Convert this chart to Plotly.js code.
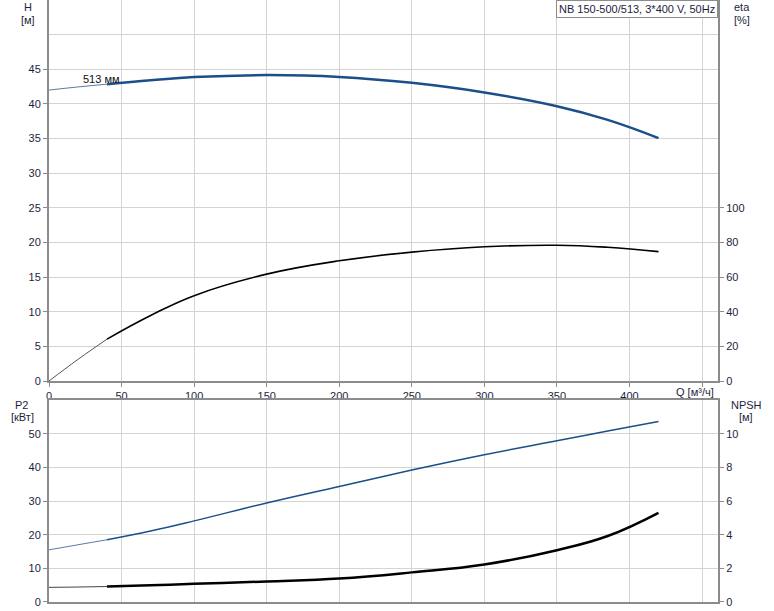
<!DOCTYPE html>
<html>
<head>
<meta charset="utf-8">
<script src="https://cdn.plot.ly/plotly-3.0.1.min.js"></script>
<style>html,body{margin:0;padding:0;background:#fff;}#chart{width:774px;height:611px;}</style>
</head>
<body>
<div id="chart"></div>
<script>
// Data
const Q     = [0, 20, 40, 70, 100, 150, 200, 250, 300, 350, 385, 420];      // м³/ч
const H     = [42.0, 42.45, 42.85, 43.4, 43.87, 44.16, 43.9, 43.04, 41.65, 39.67, 37.7, 35.07]; // м
const ETA   = [0, 12.5, 24.2, 37.8, 49.3, 61.7, 69.4, 74.4, 77.5, 78.4, 77.2, 74.7];        // %
const P2    = [15.5, 17.0, 18.5, 21.1, 24.1, 29.4, 34.3, 39.2, 43.75, 47.9, 50.8, 53.6];   // кВт
const NPSH  = [0.87, 0.89, 0.92, 0.99, 1.08, 1.22, 1.39, 1.76, 2.23, 3.08, 3.92, 5.3];    // м
const SPLIT = 2; // index where the thin (extrapolated) part ends

const xTicks = [0, 50, 100, 150, 200, 250, 300, 350, 400, 450];
const xTickText = ['0', '50', '100', '150', '200', '250', '300', '350', '400', ''];
const hTicks = [0, 5, 10, 15, 20, 25, 30, 35, 40, 45];
const etaTicks = [0, 20, 40, 60, 80, 100];
const p2Ticks = [0, 10, 20, 30, 40, 50];
const npshTicks = [0, 2, 4, 6, 8, 10];

const curveLabel = '513 мм';
const titleText = 'NB 150-500/513, 3*400 V, 50Hz';

const thin = a => a.slice(0, SPLIT + 1);
const thick = a => a.slice(SPLIT);

const BLUE = '#1b4f8a';
const FONT = {family: 'Liberation Sans, Arial, sans-serif', size: 11, color: '#1e1e3c'};
const AX = '#8c8c8c';
const GRID = '#d4d4d4';

function tr(x, y, xa, ya, color, width) {
  return {x, y, xaxis: xa, yaxis: ya, type: 'scatter', mode: 'lines',
          line: {color, width, shape: 'spline', smoothing: 1.2}, hoverinfo: 'skip', showlegend: false};
}

const data = [
  tr(thin(Q), thin(H), 'x', 'y', '#5a7aa6', 1),
  tr(thick(Q), thick(H), 'x', 'y', BLUE, 2.5),
  tr(thin(Q), thin(ETA), 'x', 'y2', '#555555', 1),
  tr(thick(Q), thick(ETA), 'x', 'y2', '#000000', 1.6),
  tr(thin(Q), thin(P2), 'x2', 'y3', '#5a7aa6', 1),
  tr(thick(Q), thick(P2), 'x2', 'y3', BLUE, 1.5),
  tr(thin(Q), thin(NPSH), 'x2', 'y4', '#444444', 1),
  tr(thick(Q), thick(NPSH), 'x2', 'y4', '#000000', 2.5)
];

const topDom = [0.3671, 1];
const botDom = [0, 0.3355];

function lab(text, x, y) {
  return {text, xref: 'paper', yref: 'paper', x, y, xanchor: 'center', yanchor: 'middle',
          showarrow: false, font: FONT};
}

const layout = {
  width: 774, height: 611,
  margin: {l: 49, r: 56, t: 0, b: 9, pad: 0},
  paper_bgcolor: '#ffffff', plot_bgcolor: '#ffffff',
  font: FONT,
  showlegend: false,
  xaxis: {
    domain: [0, 1], anchor: 'y', range: [0, 461],
    tickmode: 'array', tickvals: xTicks, ticktext: xTickText,
    showgrid: true, gridcolor: GRID, gridwidth: 1, zeroline: false,
    showline: true, linecolor: AX, linewidth: 2,
    ticks: 'outside', ticklen: 4, tickcolor: AX, tickfont: FONT
  },
  xaxis2: {
    domain: [0, 1], anchor: 'y3', matches: 'x', range: [0, 461],
    tickmode: 'array', tickvals: xTicks, showticklabels: false,
    showgrid: true, gridcolor: GRID, gridwidth: 1, zeroline: false,
    showline: true, linecolor: AX, linewidth: 2, mirror: true, ticks: ''
  },
  yaxis: {
    domain: topDom, anchor: 'x', range: [0, 55],
    tickmode: 'array', tickvals: hTicks,
    minor: {tickmode: 'array', tickvals: [50], showgrid: true, gridcolor: GRID, ticks: ''},
    showgrid: true, gridcolor: GRID, gridwidth: 1, zeroline: false,
    showline: true, linecolor: AX, linewidth: 2,
    ticks: 'outside', ticklen: 4, tickcolor: AX, tickfont: FONT
  },
  yaxis2: {
    overlaying: 'y', side: 'right', anchor: 'x', range: [0, 220],
    tickmode: 'array', tickvals: etaTicks,
    showgrid: false, zeroline: false,
    showline: true, linecolor: AX, linewidth: 2,
    ticks: 'outside', ticklen: 4, tickcolor: AX, tickfont: FONT
  },
  yaxis3: {
    domain: botDom, anchor: 'x2', range: [0, 60],
    tickmode: 'array', tickvals: p2Ticks,
    showgrid: true, gridcolor: GRID, gridwidth: 1, zeroline: false,
    showline: true, linecolor: AX, linewidth: 2,
    ticks: 'outside', ticklen: 4, tickcolor: AX, tickfont: FONT
  },
  yaxis4: {
    overlaying: 'y3', side: 'right', anchor: 'x2', range: [0, 12],
    tickmode: 'array', tickvals: npshTicks,
    showgrid: false, zeroline: false,
    showline: true, linecolor: AX, linewidth: 2,
    ticks: 'outside', ticklen: 4, tickcolor: AX, tickfont: FONT
  },
  annotations: [
    {text: titleText, xref: 'paper', yref: 'paper', x: 1, y: 1, xanchor: 'right', yanchor: 'top',
     showarrow: false, bgcolor: '#ffffff', bordercolor: '#8c8c8c', borderwidth: 1, borderpad: 2,
     font: {family: FONT.family, size: 11, color: '#1e1e3c'}},
    {text: curveLabel, xref: 'x', yref: 'y', x: 36, y: 43.6, xanchor: 'center', yanchor: 'middle',
     showarrow: false, font: {family: FONT.family, size: 11, color: '#111111'}},
    lab('H', -0.0314, 0.9885),
    lab('[м]', -0.0314, 0.9668),
    lab('eta', 1.0359, 0.9885),
    lab('[%]', 1.0359, 0.9668),
    lab('Q [м³/ч]', 0.9656, 0.3488),
    lab('P2', -0.0404, 0.3272),
    lab('[кВт]', -0.0389, 0.3073),
    lab('NPSH', 1.0419, 0.3272),
    lab('[м]', 1.0419, 0.3073)
  ]
};

Plotly.newPlot('chart', data, layout, {staticPlot: true, displayModeBar: false});
</script>
</body>
</html>
